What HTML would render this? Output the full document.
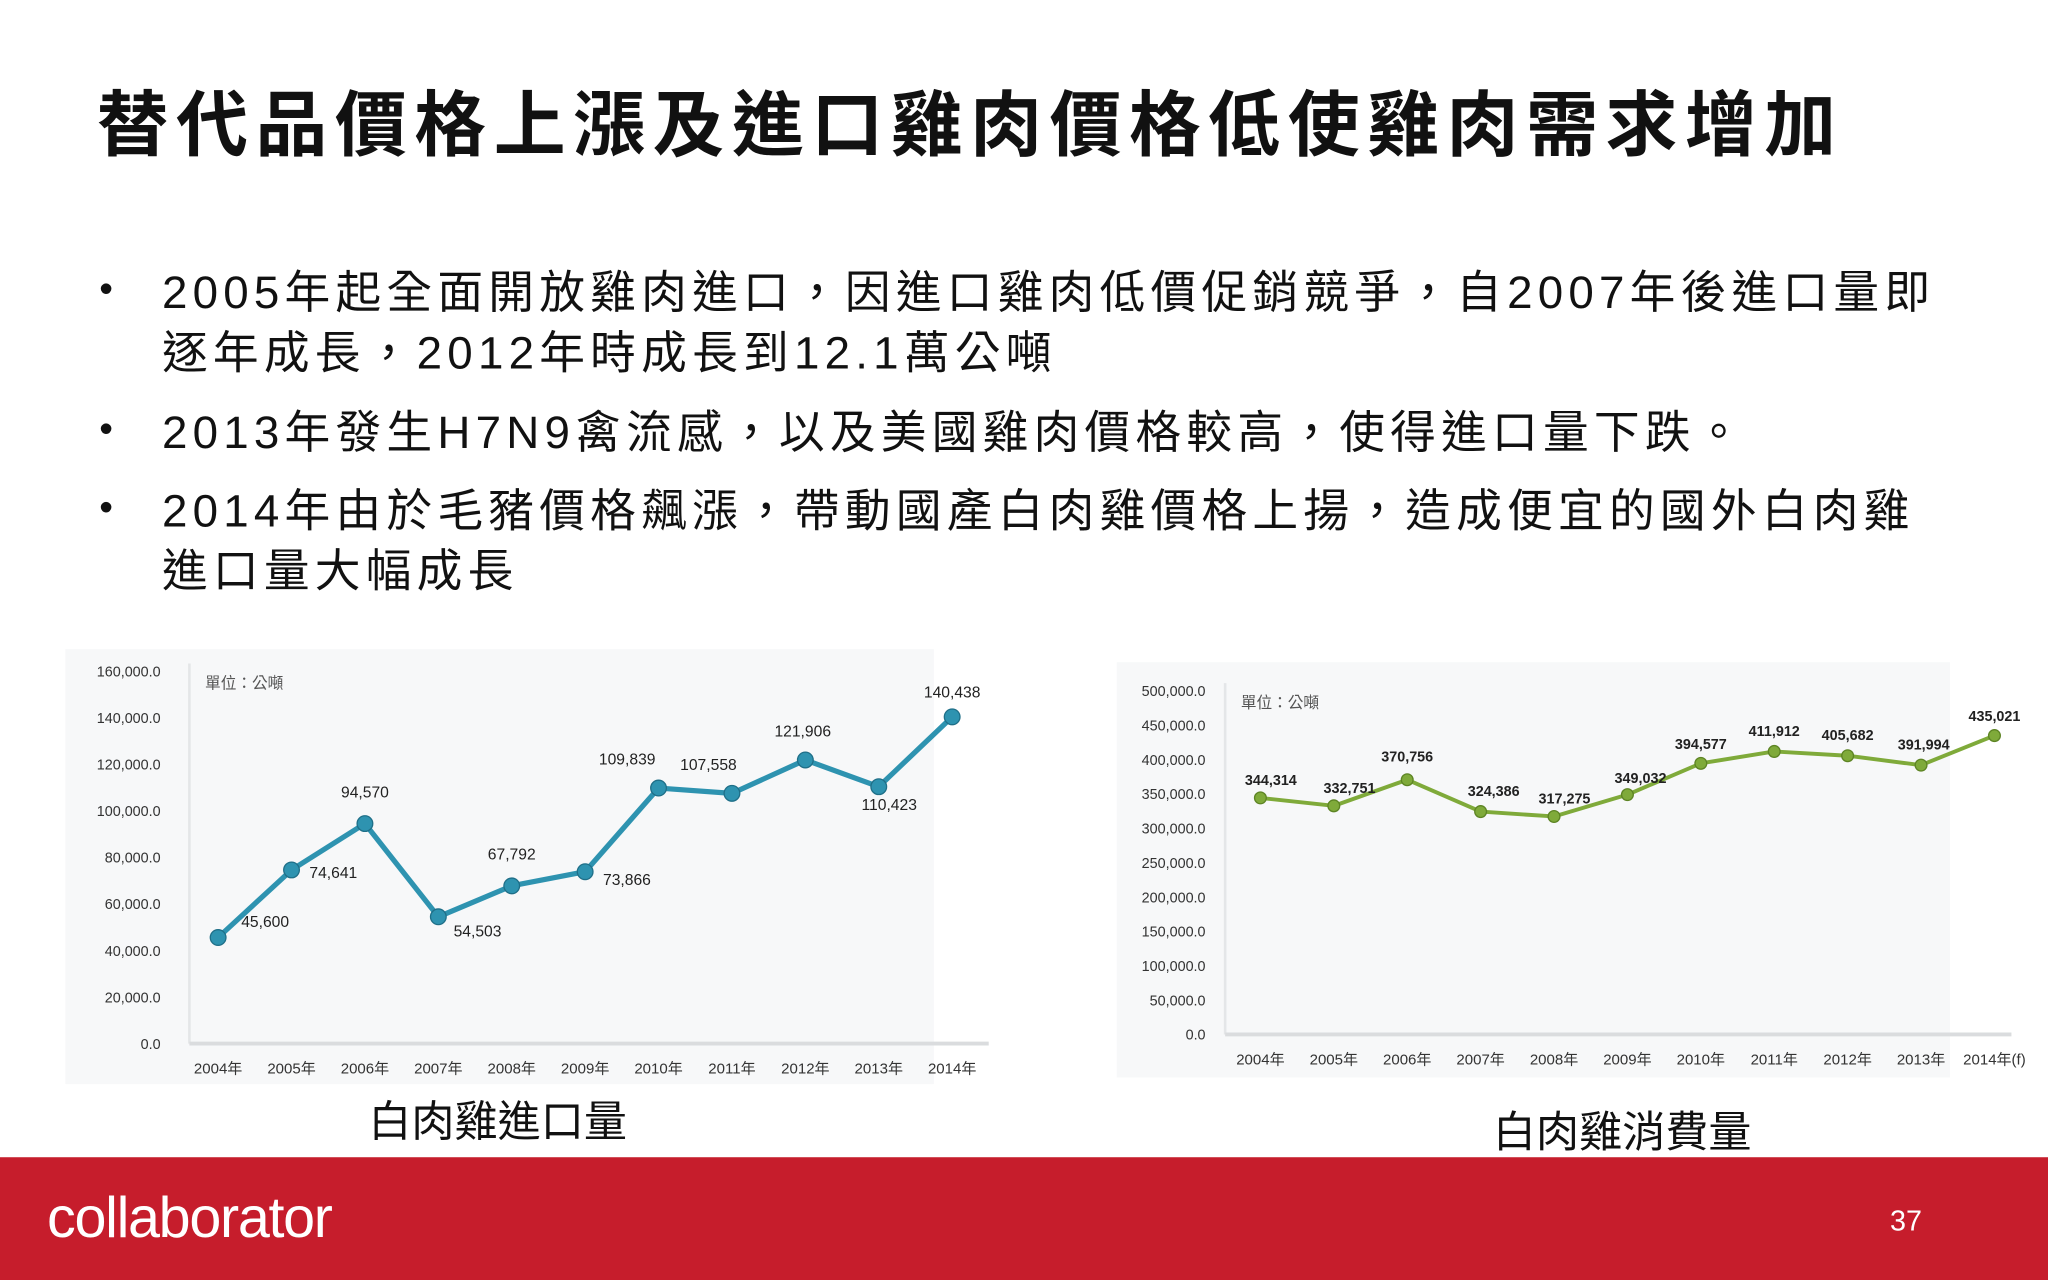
<!DOCTYPE html>
<html><head><meta charset="utf-8"><style>
html,body{margin:0;padding:0;background:#fff;overflow:hidden}
#wrap{width:1568px;height:980px;position:relative;transform:scale(1.306122);transform-origin:0 0;font-family:"Liberation Sans","Noto Sans CJK TC",sans-serif;color:#111}
.title{position:absolute;left:74px;top:51px;font-size:55px;font-weight:bold;letter-spacing:5.8px;white-space:nowrap}
.b{position:absolute;left:124px;font-size:35px;line-height:46px;white-space:nowrap;color:#111;letter-spacing:4px}
.dot{position:absolute;left:76px;font-size:30px}
.cap{position:absolute;font-size:33px;white-space:nowrap}
#footer{position:absolute;left:0;top:886px;width:1568px;height:94px;background:#c61d2c}
</style></head><body>
<div id="wrap">
<div class="title">替代品價格上漲及進口雞肉價格低使雞肉需求增加</div>
<div class="dot" style="top:205px">•</div>
<div class="b" style="top:202px">2005年起全面開放雞肉進口，因進口雞肉低價促銷競爭，自2007年後進口量即<br>逐年成長，2012年時成長到12.1萬公噸</div>
<div class="dot" style="top:312px">•</div>
<div class="b" style="top:309px">2013年發生H7N9禽流感，以及美國雞肉價格較高，使得進口量下跌。</div>
<div class="dot" style="top:372px">•</div>
<div class="b" style="top:369px">2014年由於毛豬價格飆漲，帶動國產白肉雞價格上揚，造成便宜的國外白肉雞<br>進口量大幅成長</div>

<svg id="c1" style="position:absolute;left:0;top:0" width="1568" height="980"></svg>
<div class="cap" style="left:282px;top:832px">白肉雞進口量</div>
<div class="cap" style="left:1143px;top:840px">白肉雞消費量</div>

<div id="footer">
<div style="position:absolute;left:36px;top:22px;font-size:44px;color:#fff;letter-spacing:-1px">collaborator</div>
<div style="position:absolute;left:1447px;top:36px;font-size:22px;color:#fff">37</div>
</div>
</div>
<script>
const years1 = ["2004年","2005年","2006年","2007年","2008年","2009年","2010年","2011年","2012年","2013年","2014年"];
const importVals = [45600,74641,94570,54503,67792,73866,109839,107558,121906,110423,140438];
const importLabels = ["45,600","74,641","94,570","54,503","67,792","73,866","109,839","107,558","121,906","110,423","140,438"];
const importTicks = [0,20000,40000,60000,80000,100000,120000,140000,160000];
const years2 = ["2004年","2005年","2006年","2007年","2008年","2009年","2010年","2011年","2012年","2013年","2014年(f)"];
const consVals = [344314,332751,370756,324386,317275,349032,394577,411912,405682,391994,435021];
const consLabels = ["344,314","332,751","370,756","324,386","317,275","349,032","394,577","411,912","405,682","391,994","435,021"];
const consTicks = [0,50000,100000,150000,200000,250000,300000,350000,400000,450000,500000];
const off1 = [[36,-8],[32,6],[0,-20],[30,15],[0,-20],[32,10],[-24,-18],[-18,-18],[-2,-18],[8,18],[0,-15]];
const off2 = [[8,-10],[12,-10],[0,-14],[10,-12],[8,-10],[10,-9],[0,-11],[0,-12],[0,-12],[2,-12],[0,-11]];
const NS="http://www.w3.org/2000/svg";
const svg=document.getElementById('c1');
function mk(t,a,parent){const e=document.createElementNS(NS,t);for(const k in a)e.setAttribute(k,a[k]);(parent||svg).appendChild(e);return e;}
function chart(cfg){
  const g=mk('g',{});
  
  
  mk('rect',{x:cfg.bx,y:cfg.by,width:cfg.bw,height:cfg.bh,fill:'#f7f8f9'},g);
  const y=v=>cfg.y0-(v/cfg.max)*(cfg.y0-cfg.y1);
  const x=i=>cfg.x0+i*(cfg.x1-cfg.x0)/(cfg.cats.length-1);
  mk('line',{x1:cfg.ax,y1:cfg.y1-6,x2:cfg.ax,y2:cfg.y0,stroke:'#e4e6e8','stroke-width':2},g);
  mk('line',{x1:cfg.ax,y1:cfg.y0,x2:cfg.axEnd,y2:cfg.y0,stroke:'#dadcde','stroke-width':3},g);
  cfg.ticks.forEach(t=>{const e=mk('text',{x:cfg.lx,y:y(t)+4,'text-anchor':'end','font-size':11,fill:'#333'},g);e.textContent=t.toLocaleString('en-US',{minimumFractionDigits:1});
    
    });
  cfg.cats.forEach((c,i)=>{const e=mk('text',{x:x(i),y:cfg.y0+23,'text-anchor':'middle','font-size':11.5,fill:'#333'},g);e.textContent=c;
    
    });
  const u=mk('text',{x:cfg.ax+12,y:cfg.y1+13,'font-size':12,fill:'#555'},g);u.textContent='單位：公噸';
  
  
  const pts=cfg.vals.map((v,i)=>x(i)+','+y(v)).join(' ');
  const pl=mk('polyline',{points:pts,fill:'none',stroke:cfg.color,'stroke-width':cfg.sw,'stroke-linejoin':'round'},g);
  
  
  cfg.vals.forEach((v,i)=>{
    const c=mk('circle',{cx:x(i),cy:y(v),r:cfg.r,fill:cfg.color,stroke:cfg.dark,'stroke-width':1},g);
    
    
    const t=mk('text',{x:x(i)+cfg.off[i][0],y:y(v)+cfg.off[i][1],'text-anchor':'middle','font-size':cfg.fs,fill:'#222','font-weight':cfg.fw},g);
    t.textContent=cfg.labels[i];
    
    
  });
}
chart({name:'import-chart-plot',bx:50,by:497,bw:665,bh:333,ax:145,axEnd:757,lx:123,x0:167,x1:729,y0:799,y1:514,max:160000,ticks:importTicks,cats:years1,vals:importVals,labels:importLabels,off:off1,color:'#2e93b0',dark:'#1f6f88',sw:4,r:6,fs:12,fw:'normal'});
chart({name:'consumption-chart-plot',bx:855,by:507,bw:638,bh:318,ax:938,axEnd:1540,lx:923,x0:965,x1:1527,y0:792,y1:529,max:500000,ticks:consTicks,cats:years2,vals:consVals,labels:consLabels,off:off2,color:'#7faa3a',dark:'#5d8424',sw:3,r:4.5,fs:11,fw:'bold'});
</script>
</body></html>
